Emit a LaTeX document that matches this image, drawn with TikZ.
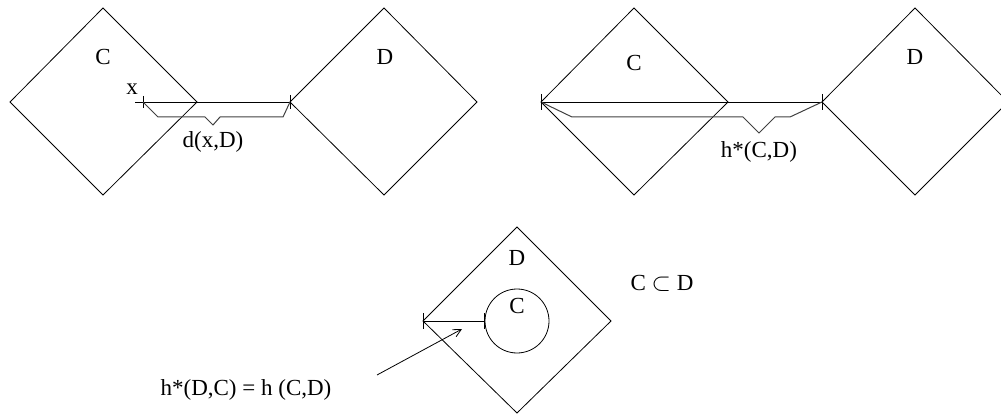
\documentclass[tikz,border=0pt]{standalone}
\usepackage{fontspec}
\setmainfont{Liberation Serif}
\usetikzlibrary{shapes.geometric,arrows.meta,calc}
\begin{document}
\begin{tikzpicture}[x=1pt,y=-1pt,
  shp/.style={draw,line width=0.8pt},
  lbl/.style={inner sep=0pt,font=\fontsize{23}{26}\selectfont},
  brc/.style={draw=black!75,line width=1pt,line join=miter},
  ln/.style={draw,line width=0.8pt},
  tk/.style={draw,line width=0.8pt}]
\useasboundingbox (0,0) rectangle (1001,414);
\begin{scope}
\clip (0,0) rectangle (1001,414);
% top left
\draw[shp] (103,8) coordinate(c1t) -- (197,102) coordinate(c1r) -- (103,195) -- (10,102) -- cycle;
\draw[shp] (384,8) -- (477,102) -- (384,195) -- (290,102) coordinate(d1l) -- cycle;
\node[lbl] (lc1) at (103,57) {C};
\node[lbl] (ld1) at (385,57) {D};
\node[lbl] (lx) at (132,89) {x};
\coordinate (xs) at (135,102);
\coordinate (xp) at (143,102);
\draw[ln] (xs) -- (d1l);
\draw[tk] ($(xp)+(0,-6)$) -- ($(xp)+(0,6)$);
\draw[brc] (xp) -- (158,117) -- (205,117) -- (213,125) -- (220,117) -- (283,117) -- (d1l);
\node[lbl] (ldx) at (213,142) {d(x,D)};
% top right
\draw[shp] (634,8) -- (728,102) -- (634,195) -- (541,102) coordinate(c2l) -- cycle;
\draw[shp] (915,8) -- (1008,102) -- (915,195) -- (822,102) coordinate(d2l) -- cycle;
\node[lbl] (lc2) at (634,63) {C};
\node[lbl] (ld2) at (915,57) {D};
\draw[ln] (c2l) -- (d2l);
\draw[brc] (c2l) -- (572,117) -- (743,117) -- (759,133) -- (775,117) -- (790,117) -- (d2l);
\node[lbl] (lh) at (759,152) {h*(C,D)};
% bottom
\draw[shp] (517,227) -- (611,321) -- (517,413) -- (423,321) coordinate(d3l) -- cycle;
\node[lbl] (ld3) at (517,258) {D};
\node[draw,circle,line width=0.8pt,minimum size=64pt,inner sep=0pt] (circ) at (517,321) {};
\node[lbl] (lc3) at (517,306) {C};
\draw[ln] (d3l) -- (circ.west);
\draw[tk] ($(circ.west)+(0,-8)$) -- ($(circ.west)+(0,8)$);
\node[lbl] (lsub) at (662,283) {C $\subset$ D};
\node[lbl] (leq) at (246,390) {h*(D,C) = h (C,D)};
\coordinate (as) at (377,375);
\coordinate (ae) at (462,329);
\draw[ln,-{Straight Barb[length=8pt,width=8pt]}] (as) -- (ae);
\end{scope}
\draw[tk] ($(d1l)+(0,-7)$) -- ($(d1l)+(0,7)$);
\draw[tk] ($(c2l)+(0,-8)$) -- ($(c2l)+(0,8)$);
\draw[tk] ($(d2l)+(0,-8)$) -- ($(d2l)+(0,8)$);
\draw[tk] ($(d3l)+(0,-8)$) -- ($(d3l)+(0,8)$);
\end{tikzpicture}
\end{document}
